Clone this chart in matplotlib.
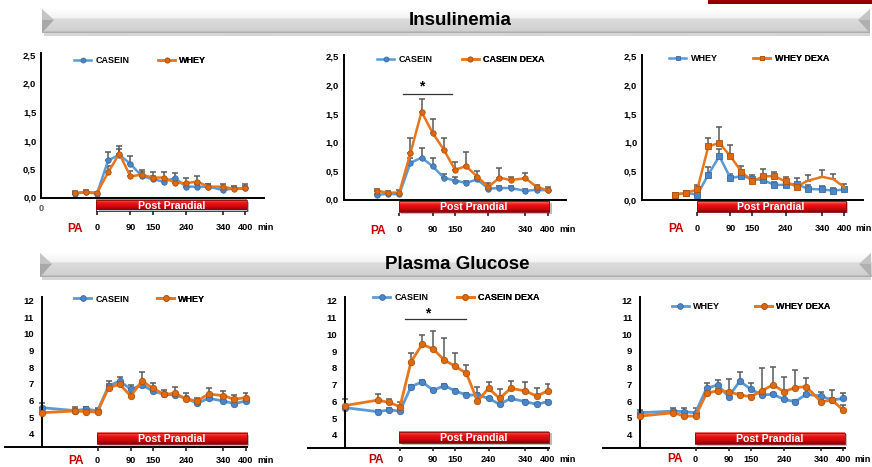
import numpy as np
import matplotlib
matplotlib.use("Agg")
import matplotlib.pyplot as plt
from matplotlib.patches import Polygon, Rectangle

# ---- data ----
times_ins = [-60, -30, 0, 30, 60, 90, 120, 150, 180, 210, 240, 270, 300, 340, 370, 400]
times_glu = [-150] + times_ins
time_ticks = [0, 90, 150, 240, 340, 400]
time_labels = ["0", "90", "150", "240", "340", "400"]

ins_yticks = [0, 0.5, 1.0, 1.5, 2.0, 2.5]
ins_ylabels = ["0,0", "0,5", "1,0", "1,5", "2,0", "2,5"]
glu_yticks = [4, 5, 6, 7, 8, 9, 10, 11, 12]
glu_ylabels = ["4", "5", "6", "7", "8", "9", "10", "11", "12"]

# insulinemia
ins_casein_a = [0.07, 0.09, 0.07, 0.65, 0.75, 0.59, 0.38, 0.32, 0.28, 0.34, 0.19, 0.19, 0.19, 0.13, 0.16, 0.16]
ins_casein_a_err = [0.02, 0.02, 0.02, 0.15, 0.10, 0.13, 0.06, 0.06, 0.06, 0.09, 0.06, 0.05, 0.04, 0.05, 0.03, 0.04]
ins_whey_a = [0.08, 0.10, 0.08, 0.44, 0.77, 0.37, 0.40, 0.35, 0.35, 0.26, 0.25, 0.28, 0.19, 0.19, 0.15, 0.16]
ins_whey_a_err = [0.03, 0.03, 0.02, 0.12, 0.14, 0.10, 0.08, 0.10, 0.09, 0.05, 0.10, 0.09, 0.05, 0.05, 0.05, 0.08]

ins_casein_b = [0.08, 0.10, 0.09, 0.64, 0.73, 0.58, 0.38, 0.33, 0.29, 0.35, 0.19, 0.20, 0.20, 0.15, 0.17, 0.16]
ins_casein_b_err = [0.02, 0.02, 0.02, 0.08, 0.17, 0.14, 0.06, 0.07, 0.03, 0.04, 0.03, 0.03, 0.03, 0.03, 0.03, 0.03]
ins_casdexa_b = [0.15, 0.12, 0.12, 0.81, 1.53, 1.16, 0.87, 0.52, 0.58, 0.40, 0.22, 0.38, 0.34, 0.37, 0.22, 0.16]
ins_casdexa_b_err = [0.03, 0.02, 0.05, 0.27, 0.22, 0.24, 0.20, 0.14, 0.25, 0.10, 0.07, 0.17, 0.05, 0.10, 0.03, 0.06]

ins_whey_c = [0.09, 0.12, 0.09, 0.44, 0.76, 0.38, 0.41, 0.37, 0.34, 0.26, 0.26, 0.28, 0.19, 0.18, 0.16, 0.18]
ins_whey_c_err = [0.02, 0.02, 0.02, 0.13, 0.13, 0.07, 0.06, 0.07, 0.05, 0.05, 0.05, 0.10, 0.06, 0.06, 0.05, 0.05]
ins_wheydexa_c = [0.09, 0.12, 0.18, 0.93, 0.99, 0.76, 0.49, 0.32, 0.41, 0.41, 0.32, 0.23, 0.33, 0.40, 0.36, 0.22]
ins_wheydexa_c_err = [0.02, 0.02, 0.08, 0.15, 0.28, 0.20, 0.10, 0.05, 0.13, 0.07, 0.08, 0.05, 0.11, 0.12, 0.09, 0.06]

# plasma glucose
glu_casein_a = [5.58, 5.40, 5.50, 5.38, 6.88, 7.18, 6.68, 6.94, 6.58, 6.38, 6.34, 6.14, 5.84, 6.14, 5.98, 5.82, 5.98]
glu_casein_a_err = [0.26, 0.10, 0.10, 0.10, 0.30, 0.26, 0.26, 0.10, 0.10, 0.10, 0.10, 0.10, 0.10, 0.10, 0.10, 0.10, 0.10]
glu_whey_a = [5.28, 5.38, 5.34, 5.32, 6.78, 6.98, 6.28, 7.18, 6.74, 6.38, 6.44, 6.10, 5.98, 6.40, 6.30, 6.08, 6.18]
glu_whey_a_err = [0.10, 0.22, 0.30, 0.22, 0.20, 0.20, 0.20, 0.52, 0.34, 0.26, 0.40, 0.38, 0.16, 0.38, 0.28, 0.26, 0.30]

glu_casein_b = [5.63, 5.39, 5.49, 5.43, 6.88, 7.17, 6.66, 6.94, 6.62, 6.38, 6.38, 6.18, 5.83, 6.18, 5.98, 5.83, 5.98]
glu_casein_b_err = [0.10] * 17
glu_casdexa_b = [5.75, 6.08, 5.94, 5.69, 8.37, 9.40, 9.12, 8.46, 8.09, 7.67, 6.02, 6.78, 6.18, 6.78, 6.62, 6.32, 6.62]
glu_casdexa_b_err = [0.37, 0.34, 0.20, 0.29, 0.49, 0.55, 1.09, 1.29, 0.77, 0.50, 0.86, 0.35, 0.56, 0.43, 0.55, 0.50, 0.44]

glu_whey_c = [5.31, 5.41, 5.37, 5.31, 6.77, 6.97, 6.27, 7.20, 6.71, 6.37, 6.41, 6.11, 5.97, 6.41, 6.31, 6.07, 6.17]
glu_whey_c_err = [0.16, 0.20, 0.20, 0.26, 0.29, 0.29, 0.20, 0.52, 0.35, 0.10, 0.10, 0.10, 0.10, 0.10, 0.22, 0.10, 0.30]
glu_wheydexa_c = [5.11, 5.31, 5.11, 5.11, 6.47, 6.63, 6.57, 6.37, 6.27, 6.63, 6.97, 6.57, 6.81, 6.87, 5.97, 6.07, 5.47]
glu_wheydexa_c_err = [0.10, 0.10, 0.10, 0.10, 0.10, 0.10, 0.73, 0.10, 0.10, 1.33, 1.09, 0.89, 1.05, 0.53, 0.10, 0.60, 0.30]

# significance marks (x from, x to, y)
sig_ins = (9, 143, 1.84)
sig_glu = (14, 178, 10.88)

# ---- style ----
SANS = "Liberation Sans"

BLUE = "#5B9BD5"
BLUE_M = "#4A86C8"
BLUE_E = "#3A6AA0"
ORANGE = "#E8761E"
ORANGE_M = "#E0690F"
ORANGE_E = "#B05208"
ERR = "#5A5A5A"

W, H = 872, 467
fig = plt.figure(figsize=(W / 100, H / 100), dpi=100)
fig.patch.set_facecolor("white")


def px_axes(x0, y0, x1, y1):
    return fig.add_axes([x0 / W, 1 - y1 / H, (x1 - x0) / W, (y1 - y0) / H])


def header(x0, y0, x1, y1, title, text_x):
    w, h = x1 - x0, y1 - y0
    ax = px_axes(x0, y0, x1, y1 + 3)
    ax.axis("off")
    # shadow
    ax.add_patch(Rectangle((2, h), w - 2, 2.5, color="#D5D5D5", lw=0, zorder=0))
    rows = np.concatenate([np.linspace(0.99, 0.95, 9), np.linspace(0.86, 0.82, 12),
                           [0.75, 0.68]])
    grad = np.repeat(rows[:, None], 2, axis=1)
    ax.imshow(grad, cmap="gray", vmin=0, vmax=1, extent=(0, w, h, 0), aspect="auto",
              interpolation="bilinear", zorder=1)
    ax.add_patch(Polygon([(0, 0), (12, h * 0.45), (0, h * 0.45)], color="#C4C4C4", lw=0, zorder=2))
    ax.add_patch(Polygon([(0, h * 0.45), (12, h * 0.45), (0, h)], color="#A8A8A8", lw=0, zorder=2))
    ax.add_patch(Polygon([(w, 0), (w - 12, h * 0.45), (w, h * 0.45)], color="#C4C4C4", lw=0, zorder=2))
    ax.add_patch(Polygon([(w, h * 0.45), (w - 12, h * 0.45), (w, h)], color="#B0B0B0", lw=0, zorder=2))
    ax.set_xlim(0, w)
    ax.set_ylim(h + 3, 0)
    fig.text(text_x / W, 1 - (y0 + h / 2 - 0.5) / H, title, family=SANS, weight="bold",
             fontsize=13.5, ha="center", va="center", color="black")


def timeline(zero, s, y_top, y_bot, bar, tick, lab, xmin, xmax, pa_x=-58, stray_zero=False):
    ax = px_axes(zero + xmin * s, y_top, zero + xmax * s, y_bot)
    ax.axis("off")
    by0, by1 = bar
    bx0, bx1 = -2, 404
    ax.add_patch(Rectangle((bx0 + 2.5 / s, by0 + 1.5), bx1 - bx0, by1 - by0, color="#BDBDBD",
                           lw=0, zorder=0))
    reds = np.array([[0.97, 0.42, 0.40], [0.95, 0.22, 0.20], [0.91, 0.08, 0.08], [0.88, 0.05, 0.06],
                     [0.83, 0.04, 0.05], [0.72, 0.02, 0.04], [0.55, 0.02, 0.03]])
    ax.imshow(reds[:, None, :], extent=(bx0, bx1, by1, by0), aspect="auto",
              interpolation="bilinear", zorder=1)
    ax.add_patch(Rectangle((bx0, by0), bx1 - bx0, by1 - by0, fill=False, ec="#8A0A0A", lw=0.6,
                           zorder=2))
    ax.text(200, (by0 + by1) / 2 + 0.3, "Post Prandial", color="white", family=SANS, weight="bold",
            fontsize=7.6, ha="center", va="center", zorder=3)
    ax.vlines(time_ticks, tick[0], tick[1], color="#222222", lw=1.2)
    for t, lbl in zip(time_ticks, time_labels):
        ax.text(t, lab, lbl, family=SANS, weight="bold", fontsize=6.6, ha="center", va="center")
    ax.annotate("min", (400, lab), xytext=(8.3, 0), textcoords="offset points", family=SANS,
                weight="bold", fontsize=6.6, ha="left", va="center", annotation_clip=False)
    ax.text(pa_x, lab + 0.5, "PA", color="#C00000", family=SANS, weight="bold", fontsize=8.6,
            ha="center", va="center")
    if stray_zero:
        ax.text(-150, 208.5, "0", color="#555555", family=SANS, weight="bold", fontsize=6.6,
                ha="center", va="center")
    ax.set_xlim(xmin, xmax)
    ax.set_ylim(y_bot, y_top)
    return ax


def style_main(ax, yticks, ylabels, pad_px):
    for side in ["top", "right"]:
        ax.spines[side].set_visible(False)
    for side in ["left", "bottom"]:
        ax.spines[side].set_linewidth(1.4)
        ax.spines[side].set_color("black")
    ax.set_xticks([])
    ax.set_yticks(yticks)
    ax.set_yticklabels(ylabels, family=SANS, weight="bold", fontsize=6.8)
    ax.tick_params(axis="y", length=0, pad=pad_px * 0.72)
    ax.patch.set_alpha(0)


def draw_series(ax, t, y1, e1, y2, e2, lab1, lab2, leg_x, leg_y, ms, lw, marker="o", mark2=None):
    z = np.zeros(len(t))
    ax.errorbar(t, y1, yerr=[z, e1], fmt="none", ecolor=ERR, elinewidth=1.1, capsize=1.9,
                capthick=1.1, zorder=1)
    ax.errorbar(t, y2, yerr=[z, e2], fmt="none", ecolor=ERR, elinewidth=1.1, capsize=1.9,
                capthick=1.1, zorder=1)
    h1, = ax.plot(t, y1, color=BLUE, lw=lw, marker=marker, ms=ms, mfc=BLUE_M, mec=BLUE_E,
                  mew=0.6, zorder=2, clip_on=False)
    h2, = ax.plot(t, y2, color=ORANGE, lw=lw, marker=marker, ms=ms, mfc=ORANGE_M, mec=ORANGE_E,
                  mew=0.6, zorder=3, clip_on=False, markevery=mark2)
    for h, lab, x in [(h1, lab1, leg_x[0]), (h2, lab2, leg_x[1])]:
        leg = ax.legend([h], [lab], loc="center left", bbox_to_anchor=(x / W, 1 - leg_y / H),
                        bbox_transform=fig.transFigure, frameon=False, borderpad=0,
                        borderaxespad=0, handlelength=1.9, handletextpad=0.45,
                        prop={"family": SANS, "weight": "bold", "size": 6.5}, markerscale=0.9)
        ax.add_artist(leg)


def sig(ax, x0, x1, y, dy):
    ax.plot([x0, x1], [y, y], color="#333333", lw=0.9)
    ax.text((x0 + x1) / 2 - (x1 - x0) * 0.12, y + dy, "*", ha="center", va="center",
            family=SANS, weight="bold", fontsize=10)


# ---- headers ----
header(42, 9, 870, 33, "Insulinemia", 460)
header(40, 253, 871, 277, "Plasma Glucose", 457)
strip = px_axes(708, 0, 872, 4.5)
strip.axis("off")
strip.imshow(np.array([[[0.62, 0.0, 0.0]], [[0.52, 0.0, 0.0]]]), extent=(0, 1, 1, 0), aspect="auto")

# ---- insulinemia panels ----
top_cfg = [
    dict(zero=97.0, s=0.371, base=197.5, ppu=57.0, bar=(200, 210.5), tick=(211, 214.5), lab=228,
         leg_y=60.5, leg_x=(74, 158)),
    dict(zero=399.3, s=0.371, base=199.5, ppu=57.3, bar=(201, 212), tick=(212.5, 216), lab=230,
         leg_y=59.3, leg_x=(377, 461.7)),
    dict(zero=697.3, s=0.3675, base=199.8, ppu=57.4, bar=(201, 212), tick=(212.5, 216), lab=229,
         leg_y=58.3, leg_x=(669.3, 753.3)),
]
top_series = [
    (ins_casein_a, ins_casein_a_err, ins_whey_a, ins_whey_a_err, "CASEIN", "WHEY"),
    (ins_casein_b, ins_casein_b_err, ins_casdexa_b, ins_casdexa_b_err, "CASEIN", "CASEIN DEXA"),
    (ins_whey_c, ins_whey_c_err, ins_wheydexa_c, ins_wheydexa_c_err, "WHEY", "WHEY DEXA"),
]
ytop_ins = 2.53
for i, (c, d) in enumerate(zip(top_cfg, top_series)):
    x0 = c["zero"] - 150 * c["s"]
    x1 = c["zero"] + 450 * c["s"]
    ax = px_axes(x0, c["base"] - ytop_ins * c["ppu"], x1, c["base"])
    ax.set_xlim(-150, 450)
    ax.set_ylim(0, ytop_ins)
    style_main(ax, ins_yticks, ins_ylabels, 5)
    marker = "s" if i == 2 else "o"
    mark2 = list(range(12)) if i == 2 else None
    draw_series(ax, times_ins, d[0], d[1], d[2], d[3], d[4], d[5], c["leg_x"], c["leg_y"],
                ms=3.9, lw=1.8, marker=marker, mark2=mark2)
    if i == 1:
        sig(ax, *sig_ins, 0.13)
    timeline(c["zero"], c["s"], c["base"] + 1, c["base"] + 40, c["bar"], c["tick"], c["lab"],
             -150, 450, stray_zero=(i == 0))

# ---- glucose panels ----
bot_cfg = [
    dict(zero=97.5, s=0.370, y4=434.0, ppu=16.67, bar=(433, 444.3), tick=(447, 450.5), lab=460.7,
         leg_y=299, leg_x=(74, 157), pa=-58),
    dict(zero=400.0, s=0.369, y4=435.0, ppu=16.79, bar=(431.7, 443.3), tick=(447.3, 451), lab=460,
         leg_y=297.7, leg_x=(373.3, 456.7), pa=-66),
    dict(zero=695.5, s=0.369, y4=434.7, ppu=16.75, bar=(432.7, 444.3), tick=(447.3, 451), lab=459,
         leg_y=306.7, leg_x=(671.7, 755), pa=-56),
]
bot_series = [
    (glu_casein_a, glu_casein_a_err, glu_whey_a, glu_whey_a_err, "CASEIN", "WHEY"),
    (glu_casein_b, glu_casein_b_err, glu_casdexa_b, glu_casdexa_b_err, "CASEIN", "CASEIN DEXA"),
    (glu_whey_c, glu_whey_c_err, glu_wheydexa_c, glu_wheydexa_c_err, "WHEY", "WHEY DEXA"),
]
ylo_glu, yhi_glu = 3.22, 12.24
for i, (c, d) in enumerate(zip(bot_cfg, bot_series)):
    x0 = c["zero"] - 250 * c["s"]
    x1 = c["zero"] + 405 * c["s"]
    ytop = c["y4"] - (yhi_glu - 4) * c["ppu"]
    ybot = c["y4"] + (4 - ylo_glu) * c["ppu"]
    ax = px_axes(x0, ytop, x1, ybot)
    ax.spines["left"].set_position(("data", -150))
    ax.set_xlim(-250, 405)
    ax.set_ylim(ylo_glu, yhi_glu)
    style_main(ax, glu_yticks, glu_ylabels, 8)
    draw_series(ax, times_glu, d[0], d[1], d[2], d[3], d[4], d[5], c["leg_x"], c["leg_y"],
                ms=4.6, lw=2.0)
    if i == 1:
        sig(ax, *sig_glu, 0.36)
    timeline(c["zero"], c["s"], c["bar"][0] - 2, 467, c["bar"], c["tick"], c["lab"],
             -250, 420, pa_x=c["pa"])

fig.savefig("out.png", dpi=100, facecolor="white")
